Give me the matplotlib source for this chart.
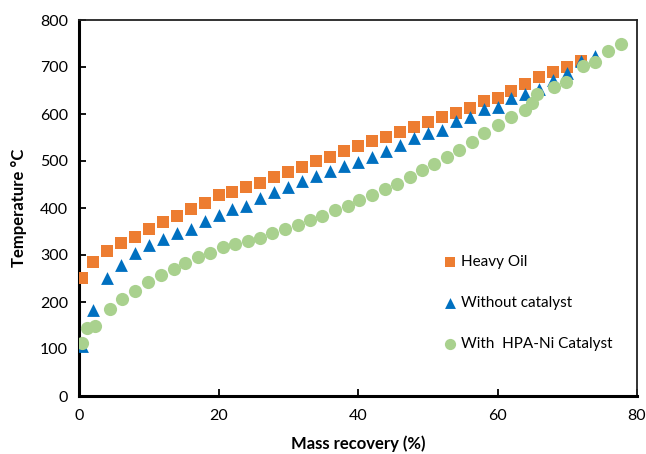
import matplotlib
matplotlib.use("Agg")
import matplotlib.pyplot as plt

plt.rcParams['font.family'] = ['Lato', 'DejaVu Sans']

# Heavy Oil
heavy_x = [0.5, 2, 4, 6, 8, 10, 12, 14, 16, 18, 20, 22, 24, 26, 28, 30, 32, 34, 36, 38,
           40, 42, 44, 46, 48, 50, 52, 54, 56, 58, 60, 62, 64, 66, 68, 70, 72]
heavy_y = [252, 286, 309, 326, 339, 355, 370, 384, 397, 410, 427, 433, 444, 453, 465, 477,
           487, 499, 509, 522, 532, 542, 552, 562, 572, 584, 593, 603, 612, 628, 635, 648,
           663, 678, 690, 699, 713]

# Without catalyst
nocat_x = [0.4, 2, 4, 6, 8, 10, 12, 14, 16, 18, 20, 22, 24, 26, 28, 30, 32, 34, 36, 38,
           40, 42, 44, 46, 48, 50, 52, 54, 56, 58, 60, 62, 64, 66, 68, 70, 72, 74]
nocat_y = [107, 184, 252, 279, 304, 321, 335, 346, 355, 372, 386, 397, 404, 421, 433, 444,
           458, 468, 478, 489, 498, 509, 522, 534, 548, 559, 567, 585, 594, 611, 614, 633,
           642, 654, 672, 687, 713, 723]

# With HPA-Ni catalyst
cat_x = [0.5, 1.2, 2.3, 4.4, 6.2, 8.1, 9.9, 11.7, 13.6, 15.2, 17.0, 18.8, 20.6, 22.3, 24.2,
         26.0, 27.7, 29.5, 31.4, 33.1, 34.9, 36.7, 38.5, 40.2, 42.0, 43.9, 45.6, 47.5, 49.2,
         50.9, 52.7, 54.5, 56.3, 58.1, 60.0, 62.0, 63.9, 65.0, 65.7, 68.1, 69.8, 72.3, 74.0,
         75.8, 77.7]
cat_y = [112, 145, 150, 186, 206, 224, 243, 257, 271, 284, 295, 305, 316, 324, 329, 337,
         346, 355, 363, 374, 384, 395, 405, 416, 428, 440, 452, 467, 481, 494, 509, 524,
         540, 559, 577, 594, 609, 623, 642, 657, 668, 702, 711, 735, 750]

labels = ["Heavy Oil", "Without catalyst", "With  HPA-Ni Catalyst"]
x_ticks = [0, 20, 40, 60, 80]
y_ticks = [0, 100, 200, 300, 400, 500, 600, 700, 800]

fig = plt.figure(figsize=(6.46, 4.54), dpi=100)
ax = fig.add_axes([79/646, 1 - 396/454, (637-79)/646, (396-20)/454])

ax.scatter(heavy_x, heavy_y, marker='s', s=85, color='#ED7D31', label=labels[0], zorder=3, linewidths=0)
ax.scatter(nocat_x, nocat_y, marker='^', s=85, color='#0070C0', label=labels[1], zorder=4, linewidths=0)
ax.scatter(cat_x, cat_y, marker='o', s=90, color='#A9D18E', label=labels[2], zorder=5, linewidths=0)

ax.set_xlim(0, 80)
ax.set_ylim(0, 800)
ax.set_xticks(x_ticks)
ax.set_yticks(y_ticks)
ax.tick_params(direction='in', length=5, width=1.3, labelsize=11.5, colors='black', pad=8)
ax.tick_params(axis='x', pad=9)

for side in ['left', 'bottom']:
    ax.spines[side].set_linewidth(2.2)
    ax.spines[side].set_color('black')
for side in ['top', 'right']:
    ax.spines[side].set_linewidth(1.3)
    ax.spines[side].set_color('#222222')

ax.set_xlabel("Mass recovery (%)", fontsize=12, fontweight='bold', labelpad=9)
ax.set_ylabel("Temperature °C", fontsize=12, fontweight='bold', labelpad=9)

leg = ax.legend(loc='upper left', bbox_to_anchor=(0.645, 0.39), frameon=False,
                fontsize=11, handlelength=0.7, handletextpad=0.35, labelspacing=1.75,
                borderaxespad=0, markerscale=0.85)

fig.savefig("out.png", dpi=100)
